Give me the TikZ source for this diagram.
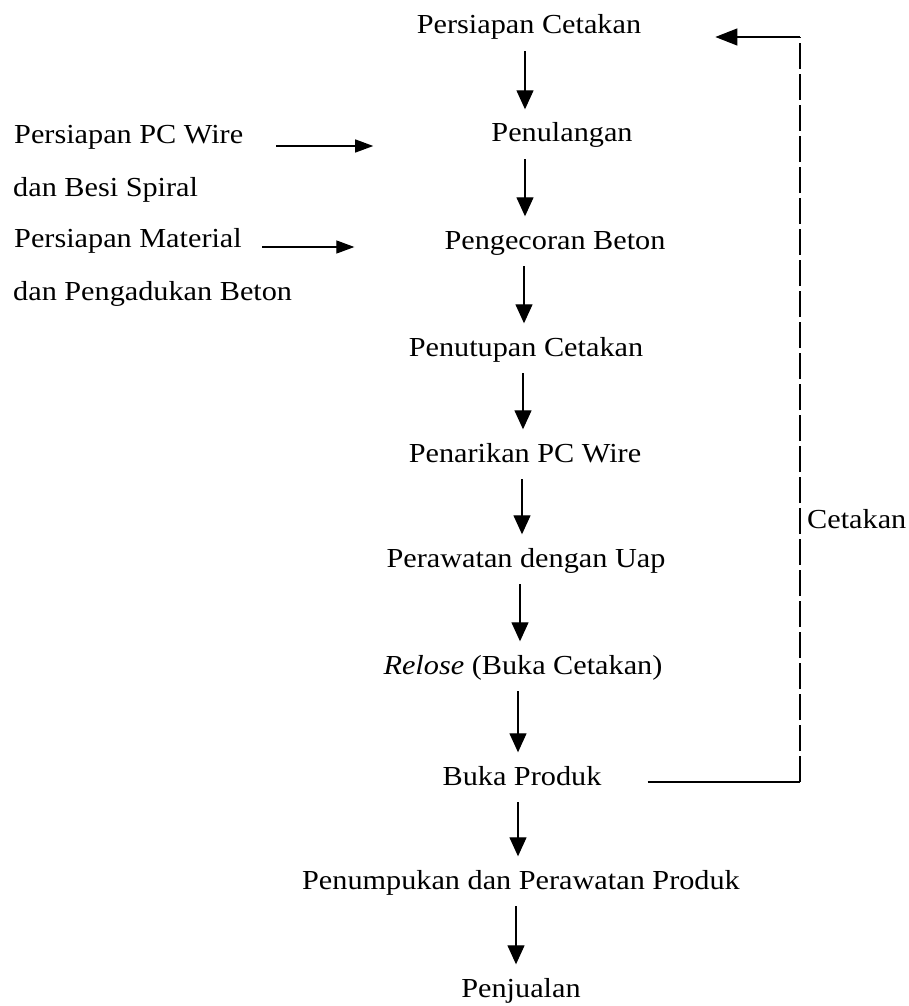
\documentclass[tikz,border=0pt]{standalone}
\usepackage{fontspec}
\setmainfont{Liberation Serif}[FakeStretch=1.1]
\usetikzlibrary{arrows.meta,calc}
\tikzset{
  lbl/.style={anchor=base, inner sep=0pt, text height=18.5pt, text depth=0pt,
              font=\fontsize{27.5}{33}\selectfont},
  lbll/.style={lbl, anchor=base west},
  flow/.style={line width=1.3pt, -{Triangle[length=19pt,width=17pt]},
               shorten <=17pt, shorten >=14pt},
  side/.style={line width=1.3pt, -{Triangle[length=18pt,width=13pt]}},
  feed/.style={line width=1.1pt},
}
\begin{document}
\begin{tikzpicture}[x=1pt,y=-1pt]
\useasboundingbox (0,0) rectangle (909,1006);

% main process column
\node[lbl] (pc)  at (529,34)  {Persiapan Cetakan};
\node[lbl] (pl)  at (562,142) {Penulangan};
\node[lbl] (pg)  at (555,249) {Pengecoran Beton};
\node[lbl] (pt)  at (526,356) {Penutupan Cetakan};
\node[lbl] (pw)  at (525,462) {Penarikan PC Wire};
\node[lbl] (pu)  at (526,567) {Perawatan dengan Uap};
\node[lbl] (rl)  at (523,674) {\textit{Relose} (Buka Cetakan)};
\node[lbl] (bp)  at (522,785) {Buka Produk};
\node[lbl] (pp)  at (521,889) {Penumpukan dan Perawatan Produk};
\node[lbl] (pj)  at (521,997) {Penjualan};

% side inputs
\node[lbll] (pcw) at (14,143) {Persiapan PC Wire};
\node[lbll] (bsp) at (13,196) {dan Besi Spiral};
\node[lbll] (pm)  at (14,247) {Persiapan Material};
\node[lbll] (pab) at (13,300) {dan Pengadukan Beton};

% feedback label
\node[lbll] (ct) at (807,528) {Cetakan};

% x positions of the vertical arrows
\coordinate (x1) at (525,0);
\coordinate (x2) at (525,0);
\coordinate (x3) at (524,0);
\coordinate (x4) at (523,0);
\coordinate (x5) at (522,0);
\coordinate (x6) at (520,0);
\coordinate (x7) at (518,0);
\coordinate (x8) at (518,0);
\coordinate (x9) at (516,0);

\draw[flow] (pc.south -| x1) -- (pl.north -| x1);
\draw[flow] (pl.south -| x2) -- (pg.north -| x2);
\draw[flow] (pg.south -| x3) -- (pt.north -| x3);
\draw[flow] (pt.south -| x4) -- (pw.north -| x4);
\draw[flow] (pw.south -| x5) -- (pu.north -| x5);
\draw[flow] (pu.south -| x6) -- (rl.north -| x6);
\draw[flow] (rl.south -| x7) -- (bp.north -| x7);
\draw[flow] (bp.south -| x8) -- (pp.north -| x8);
\draw[flow] (pp.south -| x9) -- (pj.north -| x9);

% inputs from the left
\draw[side, shorten <=33pt, shorten >=118pt]
  ($(pcw.base east)+(0,3)$) -- ($(pcw.base east -| pl.base west)+(0,3)$);
\draw[side, shorten <=20pt, shorten >=90pt]
  ($(pm.base east)+(0,0)$) -- ($(pm.base east -| pg.base west)+(0,0)$);

% mould return loop
\coordinate (fr) at (800,782);
\coordinate (ft) at (800,37);
\draw[feed] ($(bp.base east)+(46,-3)$) -- (fr);
\draw[feed, dash pattern=on 26pt off 5pt] (fr) -- (ft);
\draw[feed, -{Triangle[length=22pt,width=17pt]}, shorten >=74pt]
  (ft) -- ($(pc.base east)+(0,3)$);
\end{tikzpicture}
\end{document}
